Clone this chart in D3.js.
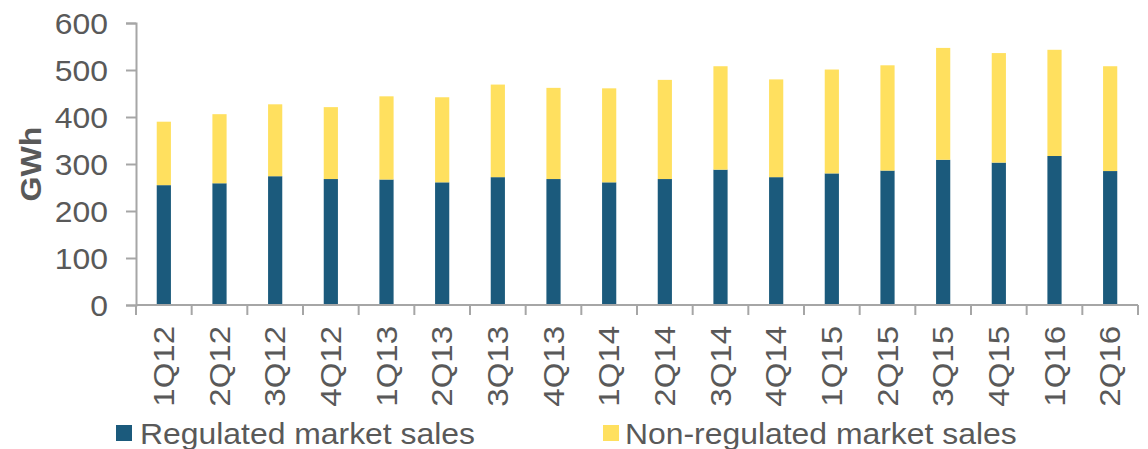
<!DOCTYPE html>
<html>
<head>
<meta charset="utf-8">
<script src="https://cdn.jsdelivr.net/npm/d3@7"></script>
<style>
  html, body { margin: 0; padding: 0; background: #fff; }
  svg { display: block; font-family: "Liberation Sans", Arial, sans-serif; }
</style>
</head>
<body>
<svg id="chart" width="1148" height="449"></svg>
<script>
const categories = ["1Q12","2Q12","3Q12","4Q12","1Q13","2Q13","3Q13","4Q13","1Q14","2Q14","3Q14","4Q14","1Q15","2Q15","3Q15","4Q15","1Q16","2Q16"];
const regulated = [255,259,274,268,267,261,272,268,261,268,288,272,280,286,309,303,317,285];
const nonRegulated = [135,147,153,153,177,181,197,194,200,211,220,208,221,224,238,233,226,223];
const yTicks = [0,100,200,300,400,500,600];
const seriesNames = ["Regulated market sales","Non-regulated market sales"];
const colors = ["#1B5A7C","#FFE05F"];

const svg = d3.select("#chart");
const mLeft = 136, mRight = 1138, mTop = 23, mBottom = 305;
const textColor = "#595959", axisColor = "#A6A6A6";
const stretch = 1.1;

const x = d3.scaleBand().domain(categories).range([mLeft, mRight]).padding(0);
const y = d3.scaleLinear().domain([0, 600]).range([mBottom, mTop]);

const data = categories.map((c, i) => ({cat: c, regulated: regulated[i], nonRegulated: nonRegulated[i]}));
const stack = d3.stack().keys(["regulated","nonRegulated"])(data);
const barW = x.bandwidth() * 0.255;

svg.append("g").selectAll("g").data(stack).join("g")
  .attr("fill", (d, i) => colors[i])
  .selectAll("rect").data(d => d).join("rect")
  .attr("x", d => x(d.data.cat) + x.bandwidth() / 2 - barW / 2)
  .attr("width", barW)
  .attr("y", d => y(d[1]))
  .attr("height", d => y(d[0]) - y(d[1]));

// Y axis
const yAxis = svg.append("g").attr("transform", `translate(${mLeft},0)`)
  .call(d3.axisLeft(y).tickValues(yTicks).tickSize(10).tickPadding(18));
yAxis.select(".domain").attr("stroke", axisColor).attr("stroke-width", 2);
yAxis.selectAll(".tick line").attr("stroke", axisColor).attr("stroke-width", 2);
yAxis.selectAll(".tick text")
  .attr("x", 0)
  .attr("transform", `translate(-28,1) scale(${stretch},1)`)
  .attr("fill", textColor).attr("font-size", 29)
  .attr("font-family", "Liberation Sans, Arial, sans-serif");

// X axis line and ticks at category boundaries
const xAxisG = svg.append("g");
xAxisG.append("line").attr("x1", mLeft).attr("x2", mRight).attr("y1", mBottom).attr("y2", mBottom)
  .attr("stroke", axisColor).attr("stroke-width", 2);
const boundaries = categories.map(c => x(c)).concat([x(categories[categories.length - 1]) + x.bandwidth()]);
xAxisG.selectAll("line.tk").data(boundaries).join("line").attr("class", "tk")
  .attr("x1", d => d).attr("x2", d => d).attr("y1", mBottom).attr("y2", mBottom + 10)
  .attr("stroke", axisColor).attr("stroke-width", 2);
xAxisG.selectAll("text").data(categories).join("text")
  .attr("transform", d => `translate(${x(d) + x.bandwidth() / 2 + 10},${mBottom + 21}) rotate(-90) scale(${stretch},1)`)
  .attr("text-anchor", "end")
  .attr("fill", textColor)
  .attr("font-size", 30)
  .text(d => d);

// Y title
svg.append("text")
  .attr("transform", `translate(41,164) rotate(-90) scale(1.07,1)`)
  .attr("text-anchor", "middle")
  .attr("fill", textColor)
  .attr("font-size", 30)
  .attr("font-weight", "bold")
  .text("GWh");

// Legend
const legendPos = [{sx: 116, tx: 140}, {sx: 603, tx: 625}];
const lg = svg.append("g");
seriesNames.forEach((name, i) => {
  lg.append("rect").attr("x", legendPos[i].sx).attr("y", 425).attr("width", 16).attr("height", 16).attr("fill", colors[i]);
  lg.append("text").attr("transform", `translate(${legendPos[i].tx},444) scale(${stretch},1)`)
    .attr("fill", textColor)
    .attr("font-size", 29).text(name);
});
</script>
</body>
</html>
